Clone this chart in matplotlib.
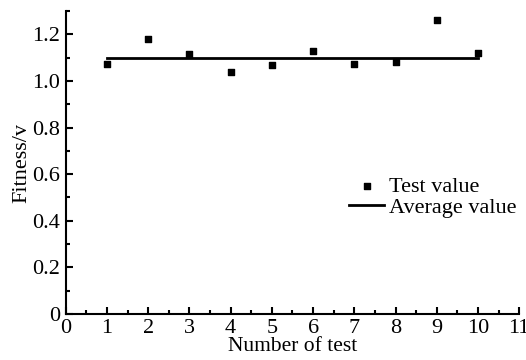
import numpy as np
import matplotlib.pyplot as plt
from matplotlib.ticker import MultipleLocator, FuncFormatter

plt.rcParams['font.family'] = ['Liberation Serif', 'DejaVu Serif']
plt.rcParams['mathtext.fontset'] = 'stix'

tests = [1, 2, 3, 4, 5, 6, 7, 8, 9, 10]
fitness = [1.075, 1.180, 1.117, 1.038, 1.069, 1.128, 1.074, 1.081, 1.263, 1.120]
average = 1.10

fig = plt.figure(figsize=(5.26, 3.6), dpi=100)
ax = fig.add_axes([0.125, 0.128, 0.862, 0.841])

ax.scatter(tests, fitness, marker='s', s=22, c='black', label='Test value', zorder=3)
ax.plot([tests[0], tests[-1]], [average, average], color='black', lw=2, label='Average value')

ax.set_xlim(0, 11)
ax.set_ylim(0, 1.3)
ax.xaxis.set_major_locator(MultipleLocator(1))
ax.xaxis.set_minor_locator(MultipleLocator(0.5))
ax.yaxis.set_major_locator(MultipleLocator(0.2))
ax.yaxis.set_minor_locator(MultipleLocator(0.1))
ax.yaxis.set_major_formatter(FuncFormatter(lambda v, p: '0' if abs(v) < 1e-9 else '%.1f' % v))

for s in ['top', 'right']:
    ax.spines[s].set_visible(False)
for s in ['left', 'bottom']:
    ax.spines[s].set_linewidth(1.5)

ax.tick_params(which='both', direction='in', width=1.5, labelsize=16)
ax.tick_params(which='major', length=5)
ax.tick_params(axis='y', which='major', pad=4)
ax.tick_params(axis='x', which='major', pad=4)
ax.tick_params(which='minor', length=3)

ax.set_xlabel('Number of test', fontsize=15.5, labelpad=-1)
ax.set_ylabel('Fitness/v', fontsize=16, labelpad=1)

ax.legend(loc='upper left', bbox_to_anchor=(0.6, 0.49), frameon=False, fontsize=16,
          handlelength=1.6, handletextpad=0.2, labelspacing=0.0, borderpad=0)

fig.savefig('out.png', dpi=100)
